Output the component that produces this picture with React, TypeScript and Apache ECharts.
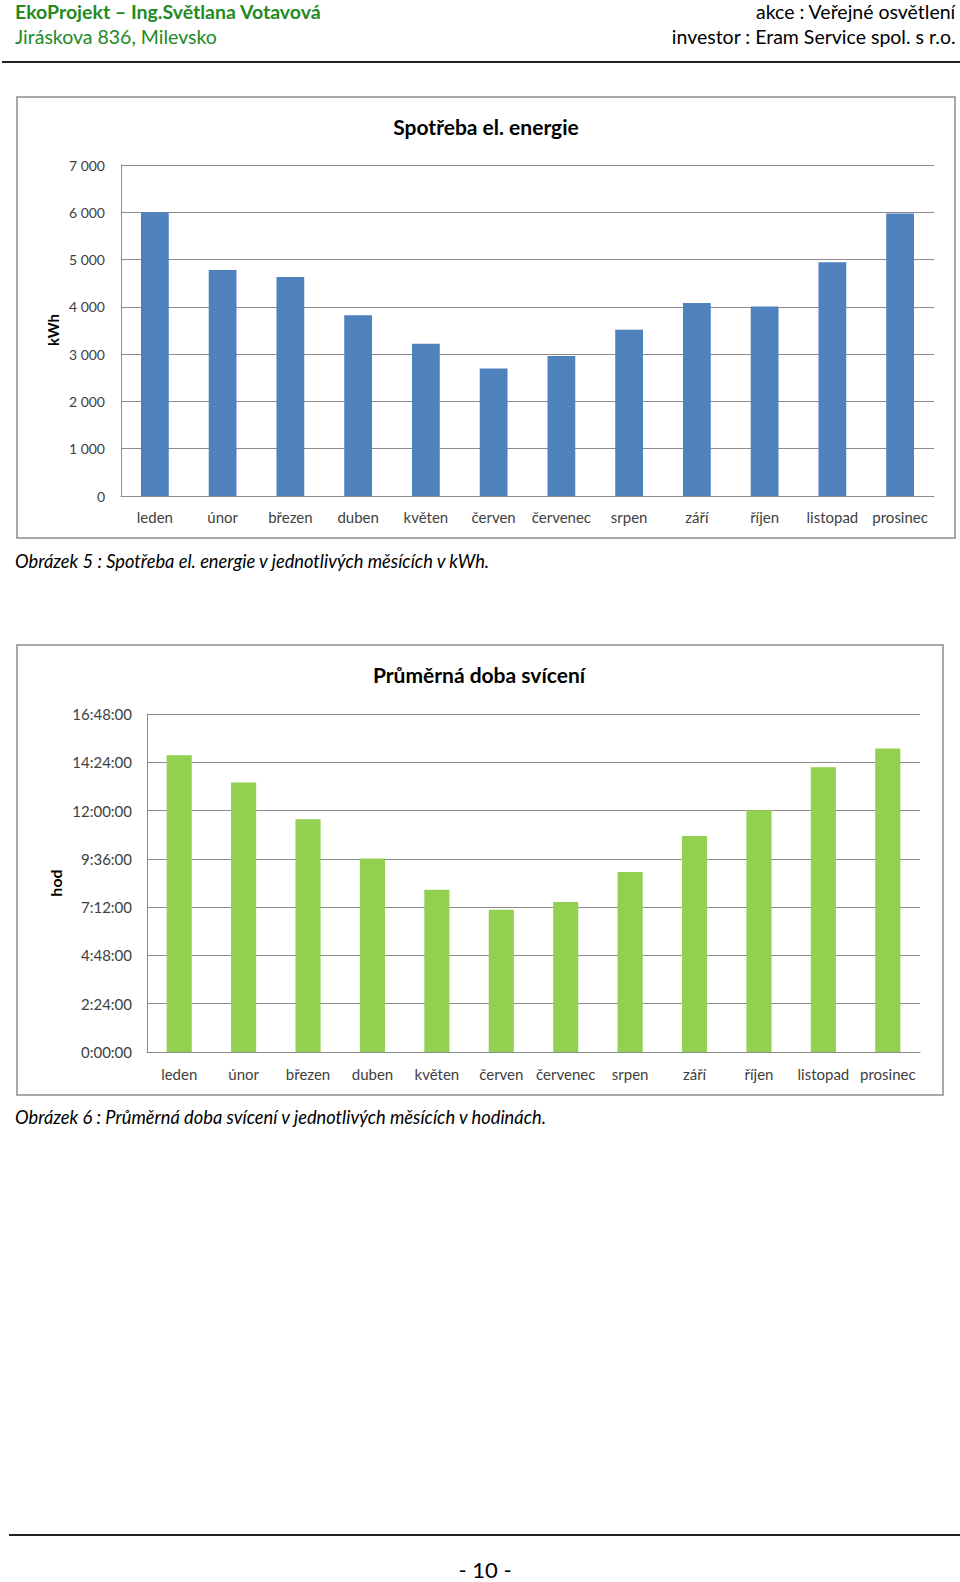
import React, { useEffect, useRef } from "react";
import * as echarts from "echarts";

const months = ["leden", "únor", "březen", "duben", "květen", "červen", "červenec", "srpen", "září", "říjen", "listopad", "prosinec"];
const energyKWh = [6000, 4780, 4630, 3825, 3220, 2695, 2960, 3515, 4080, 4005, 4945, 5975];
// average lighting time per month, in minutes
const lightingMinutes = [885, 804, 694, 577, 484, 424, 447, 537, 644, 721, 849, 905];

const title1 = "Spotřeba el. energie";
const title2 = "Průměrná doba svícení";
const caption1 = "Obrázek 5 : Spotřeba el. energie v jednotlivých měsících v kWh.";
const caption2 = "Obrázek 6 : Průměrná doba svícení v jednotlivých měsících v hodinách.";

const FONT = "Lato, 'Open Sans', sans-serif";
const GRID_COLOR = "#8c8c8c";
const LABEL_COLOR = "#404040";

function fmtThousands(v: number) {
  const s = String(Math.round(v));
  return s.replace(/\B(?=(\d{3})+(?!\d))/g, " ");
}
function fmtTime(min: number) {
  const total = Math.round(min * 60);
  const h = Math.floor(total / 3600);
  const m = Math.floor((total % 3600) / 60);
  const s = total % 60;
  return `${h}:${String(m).padStart(2, "0")}:${String(s).padStart(2, "0")}`;
}

export default function App() {
  const ref = useRef<HTMLDivElement>(null);
  useEffect(() => {
    if (!ref.current) return;
    const chart = echarts.init(ref.current, undefined, { renderer: "svg" });
    const axisLabel = { color: LABEL_COLOR, fontFamily: FONT, fontSize: 14 };
    chart.setOption({
      animation: false,
      backgroundColor: "#ffffff",
      title: [
        { text: title1, left: 481, top: 111, textAlign: "center", textStyle: { fontFamily: FONT, fontWeight: "bold", fontSize: 21, color: "#000" } },
        { text: title2, left: 474, top: 659, textAlign: "center", textStyle: { fontFamily: FONT, fontWeight: "bold", fontSize: 21, color: "#000" } },
      ],
      grid: [
        { left: 121, top: 165, width: 813, height: 331, containLabel: false },
        { left: 147, top: 714, width: 773, height: 338, containLabel: false },
      ],
      xAxis: [
        {
          type: "category", gridIndex: 0, data: months,
          axisLine: { show: true, lineStyle: { color: GRID_COLOR, width: 1 } },
          axisTick: { show: false },
          axisLabel: { ...axisLabel, fontSize: 15, margin: 13, interval: 0 },
        },
        {
          type: "category", gridIndex: 1, data: months,
          axisLine: { show: true, lineStyle: { color: GRID_COLOR, width: 1 } },
          axisTick: { show: false },
          axisLabel: { ...axisLabel, fontSize: 15, margin: 14, interval: 0 },
        },
      ],
      yAxis: [
        {
          type: "value", gridIndex: 0, min: 0, max: 7000, interval: 1000,
          axisLine: { show: true, lineStyle: { color: GRID_COLOR, width: 1 } },
          axisTick: { show: false },
          splitLine: { show: true, lineStyle: { color: GRID_COLOR, width: 1 } },
          axisLabel: { ...axisLabel, margin: 16, formatter: (v: number) => fmtThousands(v) },
        },
        {
          type: "value", gridIndex: 1, min: 0, max: 1008, interval: 144,
          axisLine: { show: true, lineStyle: { color: GRID_COLOR, width: 1 } },
          axisTick: { show: false },
          splitLine: { show: true, lineStyle: { color: GRID_COLOR, width: 1 } },
          axisLabel: { ...axisLabel, fontSize: 15, margin: 15, formatter: (v: number) => fmtTime(v) },
        },
      ],
      series: [
        { type: "bar", xAxisIndex: 0, yAxisIndex: 0, data: energyKWh, barWidth: "41%", itemStyle: { color: "#4F81BD" } },
        { type: "bar", xAxisIndex: 1, yAxisIndex: 1, data: lightingMinutes, barWidth: "39%", itemStyle: { color: "#92D050" } },
      ],
      graphic: [
        { type: "text", left: 15, top: 1, style: { text: "EkoProjekt – Ing.Světlana Votavová", font: `bold 19.5px ${FONT}`, fill: "#248a24" } },
        { type: "text", left: 15, top: 26, style: { text: "Jiráskova 836, Milevsko", font: `19.5px ${FONT}`, fill: "#248a24" } },
        { type: "text", right: 4, top: 1, style: { text: "akce : Veřejné osvětlení", font: `19.5px ${FONT}`, fill: "#000" } },
        { type: "text", right: 4, top: 26, style: { text: "investor : Eram Service spol. s r.o.", font: `19.5px ${FONT}`, fill: "#000" } },
        { type: "line", shape: { x1: 2, y1: 62, x2: 960, y2: 62 }, style: { stroke: "#222", lineWidth: 2 } },
        { type: "rect", shape: { x: 17, y: 97, width: 938, height: 441 }, style: { fill: "none", stroke: "#8c8c8c", lineWidth: 1.5 } },
        { type: "rect", shape: { x: 17, y: 645, width: 926, height: 450 }, style: { fill: "none", stroke: "#8c8c8c", lineWidth: 1.5 } },
        { type: "text", x: 53, y: 330, rotation: Math.PI / 2, style: { text: "kWh", font: `bold 15px ${FONT}`, fill: "#000", align: "center", verticalAlign: "middle" } },
        { type: "text", x: 55, y: 883, rotation: Math.PI / 2, style: { text: "hod", font: `bold 16px ${FONT}`, fill: "#000", align: "center", verticalAlign: "middle" } },
        { type: "text", left: 15, top: 552, style: { text: caption1, font: `italic 18.3px ${FONT}`, fill: "#000" } },
        { type: "text", left: 15, top: 1108, style: { text: caption2, font: `italic 18.3px ${FONT}`, fill: "#000" } },
        { type: "line", shape: { x1: 9, y1: 1535, x2: 960, y2: 1535 }, style: { stroke: "#222", lineWidth: 2 } },
        { type: "text", x: 485, y: 1569, style: { text: "- 10 -", font: `22px ${FONT}`, fill: "#000", align: "center", verticalAlign: "middle" } },
      ],
    });
    return () => chart.dispose();
  }, []);
  return <div ref={ref} style={{ position: "absolute", left: 0, top: 0, width: 960, height: 1582, background: "#fff" }} />;
}
